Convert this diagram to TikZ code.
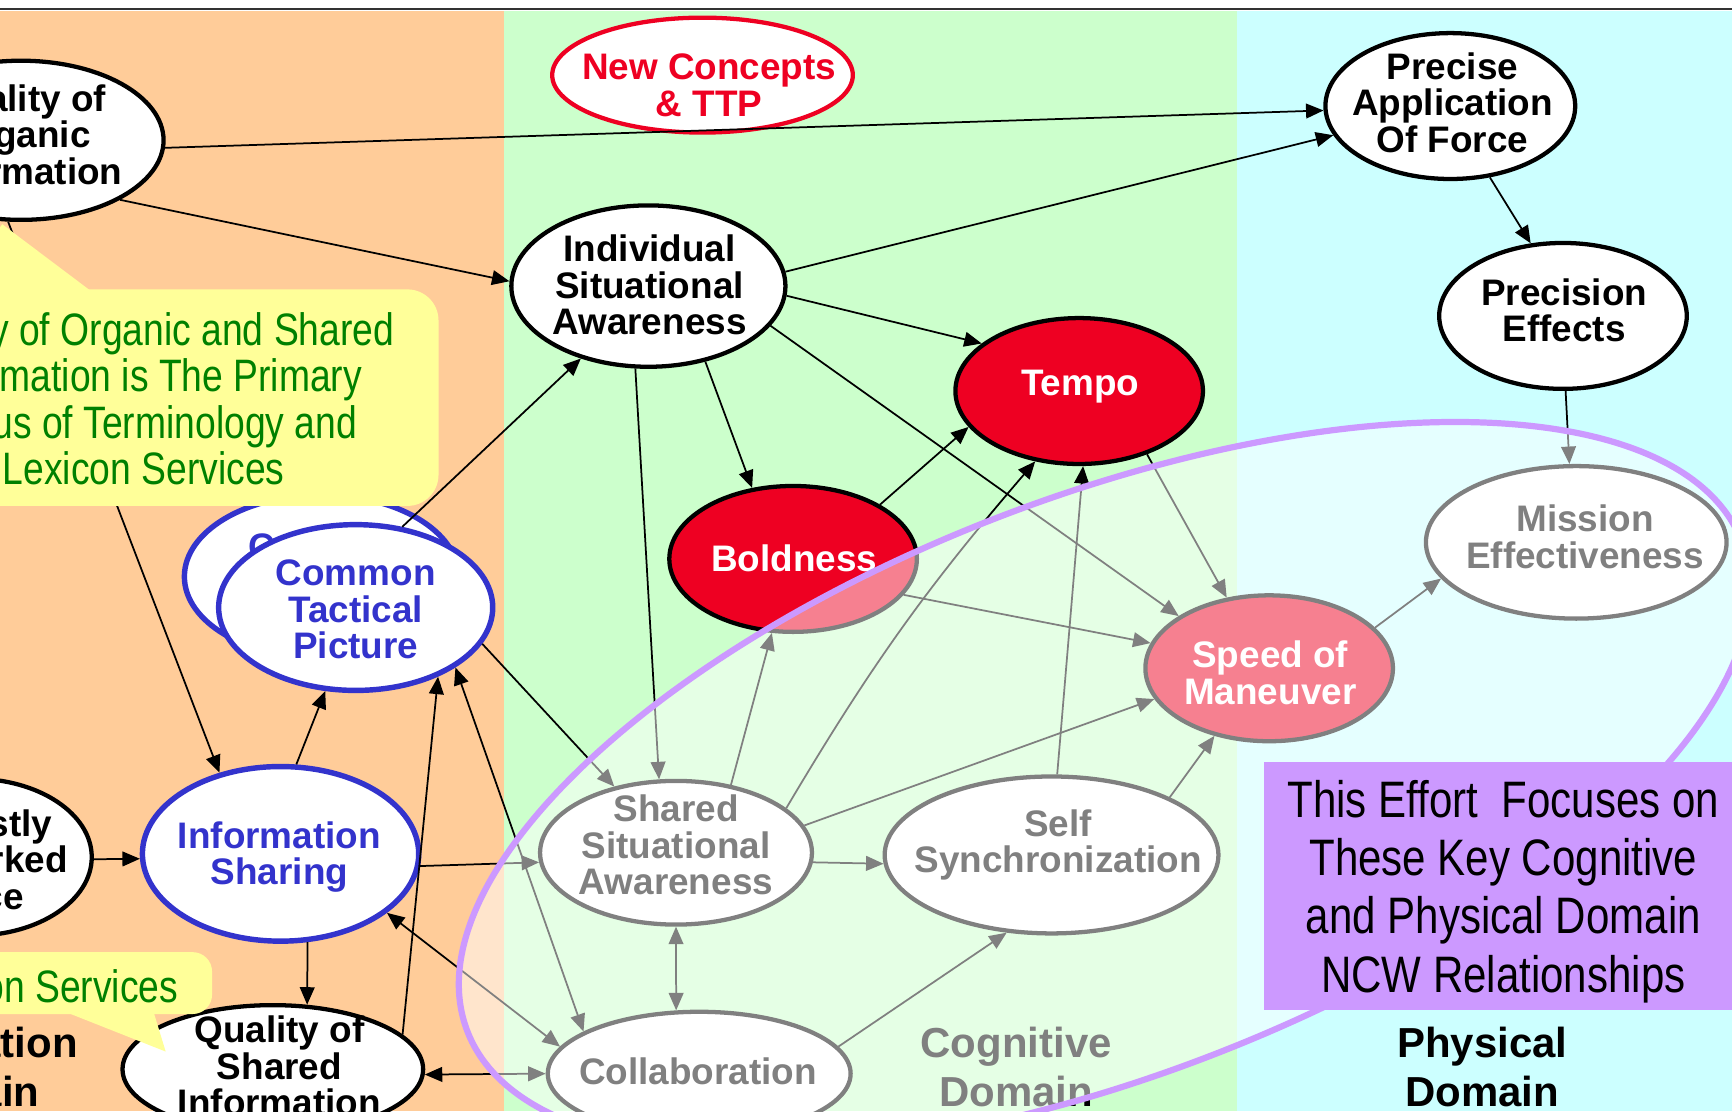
\documentclass[tikz,border=0pt]{standalone}
\usepackage{fontspec}
\setmainfont{Liberation Sans}
\newfontfamily\narrowfont[FakeStretch=0.82]{Liberation Sans}
\usetikzlibrary{shapes.geometric,arrows.meta}

\definecolor{bandorange}{RGB}{255,204,153}
\definecolor{bandgreen}{RGB}{204,255,204}
\definecolor{bandcyan}{RGB}{204,255,255}
\definecolor{callyellow}{RGB}{255,255,153}
\definecolor{calltext}{RGB}{0,128,0}
\definecolor{lavender}{RGB}{204,153,255}
\definecolor{nodered}{RGB}{238,0,34}
\definecolor{nodeblue}{RGB}{51,51,204}

\newcommand\bubblefont{\fontsize{9.5}{9.4}\selectfont\bfseries}
\newcommand\domainfont{\fontsize{10.8}{12.5}\selectfont\bfseries}
\newcommand\calloutfont{\narrowfont\fontsize{11.7}{11.9}\selectfont}
\newcommand\focusfont{\narrowfont\fontsize{13.2}{15}\selectfont}

\tikzset{
  bubble/.style={ellipse, draw=black, line width=1.1pt, fill=white, inner sep=0pt},
  hotbubble/.style={bubble, fill=nodered},
  bluebubble/.style={bubble, draw=nodeblue, line width=1.4pt},
  bubbletext/.style={align=center, font=\bubblefont, inner sep=0pt},
  link/.style={line width=0.45pt, -{Triangle[length=4.5pt,width=3.8pt]}},
  twoway/.style={line width=0.45pt,
    {Triangle[length=4.5pt,width=3.8pt]}-{Triangle[length=4.5pt,width=3.8pt]}},
  domainlabel/.style={align=center, font=\domainfont, inner sep=0pt},
}

\begin{document}
\begin{tikzpicture}[x=0.01cm, y=-0.01cm]
\useasboundingbox (0,0) rectangle (1568,1006);
\begin{scope}
\clip (0,0) rectangle (1568,1006);

% domain bands
\fill[white] (0,0) rectangle (1568,1006);
\fill[bandorange] (0,10) rectangle (456,1006);
\fill[bandgreen] (456,10) rectangle (1120,1006);
\fill[bandcyan] (1120,10) rectangle (1568,1006);
\draw[black!80, line width=0.5pt] (0,8) -- (1568,8);

% domain labels
\node[domainlabel] (infodomain) at (-34,966) {Information\\Domain};
\node[domainlabel] (cogdomain) at (920,966) {Cognitive\\Domain};

% concept bubbles
\node[bubble, minimum width=2.58cm, minimum height=1.44cm] (qoi) at (19,127) {};
\node[bubble, draw=nodered, minimum width=2.72cm, minimum height=1.04cm] (nct) at (636,68) {};
\node[bubble, minimum width=2.48cm, minimum height=1.46cm] (isa) at (587,259) {};
\node[bubble, minimum width=2.26cm, minimum height=1.32cm] (paf) at (1313,96) {};
\node[bubble, minimum width=2.24cm, minimum height=1.32cm] (pe) at (1415,286) {};
\node[hotbubble, minimum width=2.24cm, minimum height=1.32cm] (tempo) at (977,354) {};
\node[hotbubble, minimum width=2.24cm, minimum height=1.32cm] (bold) at (718,506) {};
\node[bubble, minimum width=2.72cm, minimum height=1.38cm] (me) at (1427,491) {};
\node[hotbubble, minimum width=2.24cm, minimum height=1.32cm] (som) at (1149,605) {};
\node[bubble, minimum width=2.46cm, minimum height=1.30cm] (ssa) at (612,772) {};
\node[bubble, minimum width=3.02cm, minimum height=1.42cm] (ss) at (952,774) {};
\node[bubble, minimum width=2.74cm, minimum height=1.12cm] (col) at (633,972) {};
\node[bluebubble, minimum width=2.50cm, minimum height=1.58cm] (is) at (254,773) {};
\node[bluebubble, minimum width=2.48cm, minimum height=1.48cm] (ctpback) at (291,522) {};
\node[bubbletext, text=nodeblue] (ctpbacktext) at (297,528) {Common\\Tactical\\Picture};
\node[bluebubble, minimum width=2.48cm, minimum height=1.50cm] (ctp) at (322,550) {};
\node[bubble, minimum width=2.72cm, minimum height=1.16cm] (qsi) at (247,968) {};
\node[bubble, minimum width=2.14cm, minimum height=1.42cm] (rnf) at (-24,776) {};

% bubble captions
\node[bubbletext] (qoitext) at (19,122) {Quality of\\Organic\\Information};
\node[bubbletext, text=nodered] (ncttext) at (642,77) {New Concepts\\\& TTP};
\node[bubbletext] (isatext) at (588,258) {Individual\\Situational\\Awareness};
\node[bubbletext] (paftext) at (1315,93) {Precise\\Application\\Of Force};
\node[bubbletext] (petext) at (1416,281) {Precision\\Effects};
\node[bubbletext, text=white] (tempotext) at (978,350) {Tempo};
\node[bubbletext, text=white] (boldtext) at (719,505) {Boldness};
\node[bubbletext] (metext) at (1435,486) {Mission\\Effectiveness};
\node[bubbletext, text=white] (somtext) at (1150,609) {Speed of\\Maneuver};
\node[bubbletext] (ssatext) at (612,765) {Shared\\Situational\\Awareness};
\node[bubbletext] (sstext) at (958,765) {Self\\Synchronization};
\node[bubbletext] (coltext) at (632,970) {Collaboration};
\node[bubbletext, text=nodeblue] (istext) at (253,776) {Information\\Sharing};
\node[bubbletext, text=nodeblue] (ctptext) at (322,552) {Common\\Tactical\\Picture};
\node[bubbletext] (qsitext) at (253,965) {Quality of\\Shared\\Information};
\node[bubbletext] (rnftext) at (-24,778) {Robustly\\Networked\\Force};

% relationships
\draw[link] (qoi.-3.5) -- (paf.182);
\draw[link] (qoi.-31) -- (isa.178.6);
\draw[link] (qoi.-99) -- (is.127);
\draw[link] (isa.6) -- (paf.-166);
\draw[link] (isa.-4.3) -- (tempo.154);
\draw[link] (isa.-53) -- (bold.120);
\draw[link] (isa.-18) -- (som.150);
\draw[link] (isa.-99) -- (ssa.103);
\draw[link] (paf.-61) -- (pe.114);
\draw[link] (pe.-88) -- (me.95);
\draw[link] (bold.32.5) -- (tempo.-162.6);
\draw[link] (is.80) -- (ctp.-110);
\draw[link] (rnf.-1) -- (is.182);
\draw[link] (is.-73) -- (qsi.62);
\draw[link] (is.-5) -- (ssa.184);
\draw[link] (qsi.15) -- (ctp.-40);
\draw[twoway] (ctp.-31) -- (col.160);
\draw[twoway] (is.-29) -- (col.169);
\draw[twoway] (qsi.-2) -- (col.180);
\draw[link] (ctp.-16.5) -- (ssa.133);
\draw[link] (ctp.60) -- (isa.-133);
\draw[link] (ssa.51) -- (bold.-106);
\draw[link] (ssa.22) to[bend left=5] (tempo.-122.5);
\draw[link] (ssa.12.4) -- (som.195);
\draw[link] (ssa.-4.6) -- (ss.183);
\draw[twoway] (ssa.-90) -- (col.110);
\draw[link] (ss.86) -- (tempo.-87.6);
\draw[link] (ss.26.6) -- (som.-129);
\draw[link] (col.11.6) -- (ss.-120.5);
\draw[link] (bold.-18.4) -- (som.168);
\draw[link] (tempo.-43) -- (som.121);
\draw[link] (som.21) -- (me.-165);

% callouts
\fill[callyellow, rounded corners=8pt] (-40,262) -- (397,262) -- (397,458) -- (-40,458) -- cycle;
\fill[callyellow] (-40,264) -- (2,203) -- (83,264) -- cycle;
\node[align=center, font=\calloutfont, text=calltext, inner sep=0pt] (lexnote) at (130,361)
  {Quality of Organic and Shared\\Information is The Primary\\Focus of Terminology and\\Lexicon Services};
\fill[callyellow, rounded corners=5pt] (-40,862) -- (192,862) -- (192,918) -- (-40,918) -- cycle;
\fill[callyellow] (59,916) -- (139,916) -- (150,952) -- cycle;
\node[anchor=east, font=\calloutfont, text=calltext, inner sep=0pt] (infonote) at (162,893) {Information Services};

% focus region
\fill[white, opacity=0.5, rotate around={21:(1000,712)}] (1000,712) ellipse [x radius=618, y radius=262];
\draw[lavender, line width=1.6pt, rotate around={21:(1000,712)}] (1000,712) ellipse [x radius=618, y radius=262];

\node[fill=lavender, inner sep=0pt, minimum width=4.35cm, minimum height=2.25cm] (focus) at (1362,802) {};
\node[align=center, font=\focusfont, inner sep=0pt] (focustext) at (1361,807)
  {This Effort~~Focuses on\\These Key Cognitive\\and Physical Domain\\NCW Relationships};
\node[domainlabel] (physdomain) at (1342,966) {Physical\\Domain};
\end{scope}
\end{tikzpicture}
\end{document}
